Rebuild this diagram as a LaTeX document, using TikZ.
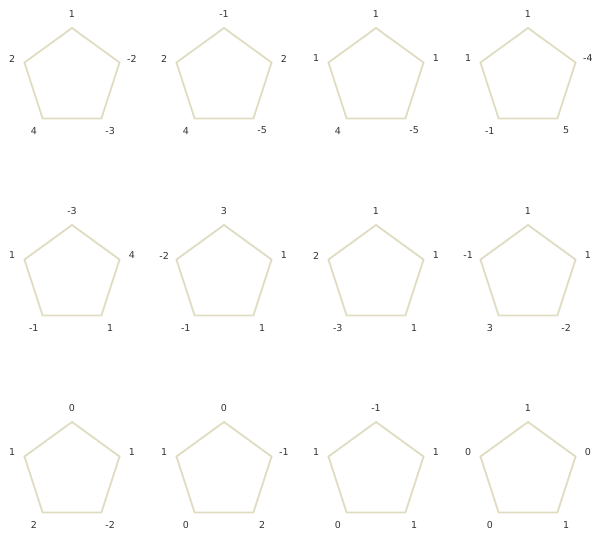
\documentclass[tikz,border=0pt]{standalone}
\usepackage{fontspec}
\setmainfont{DejaVu Sans}
\usetikzlibrary{shapes.geometric,calc}
\definecolor{edgecol}{RGB}{224,220,194}
\definecolor{numcol}{RGB}{50,50,50}
\begin{document}
\begin{tikzpicture}[x=1pt,y=1pt,
  pent/.style={regular polygon,regular polygon sides=5,minimum size=100pt,inner sep=0pt,outer sep=0pt,draw=edgecol,line width=1.8pt},
  val/.style={font=\fontsize{9.5}{9.5}\selectfont,text=numcol,inner sep=0pt}]
\useasboundingbox (0,0) rectangle (595,536);
\foreach \n/\px/\py/\vA/\vB/\vC/\vD/\vE in {
  11/72/458/1/2/4/-3/-2,
  12/224/458/-1/2/4/-5/2,
  13/376/458/1/1/4/-5/1,
  14/528/458/1/1/-1/5/-4,
  21/72/261/-3/1/-1/1/4,
  22/224/261/3/-2/-1/1/1,
  23/376/261/1/2/-3/1/1,
  24/528/261/1/-1/3/-2/1,
  31/72/64/0/1/2/-2/1,
  32/224/64/0/1/0/2/-1,
  33/376/64/-1/1/0/1/1,
  34/528/64/1/0/0/1/0}
{
  \node[pent] (p\n) at (\px,\py) {};
  \node[val] (la\n) at ($(p\n.center)+(90:64)$) {\vA};
  \node[val] (lb\n) at ($(p\n.center)+(162:63)$) {\vB};
  \node[val] (lc\n) at ($(p\n.center)+(234:65)$) {\vC};
  \node[val] (ld\n) at ($(p\n.center)+(306:65)$) {\vD};
  \node[val] (le\n) at ($(p\n.center)+(18:63)$) {\vE};
}
\end{tikzpicture}
\end{document}
